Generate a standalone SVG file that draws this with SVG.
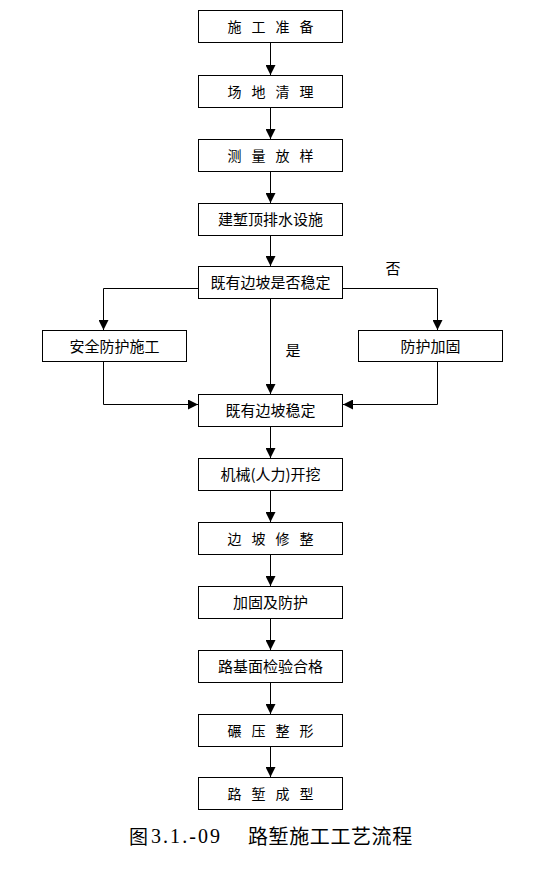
<svg xmlns="http://www.w3.org/2000/svg" width="541" height="895" viewBox="0 0 541 895">
<defs>
<marker id="ah" markerUnits="userSpaceOnUse" markerWidth="10" markerHeight="10" refX="10" refY="5" orient="auto">
<path d="M0,0 L10,5 L0,10 z" fill="#000"/>
</marker>
<style>
.box{fill:#fff;stroke:#000;stroke-width:1}
.t{font-family:"Noto Sans CJK SC","Noto Sans",sans-serif;font-size:15px;fill:#000;text-anchor:middle}
.sp{font-size:14px;letter-spacing:10px}
.c{fill:none;stroke:#000;stroke-width:1}
</style>
</defs>
<rect width="541" height="895" fill="#fff"/>
<g id="connectors">
<line class="c" x1="270.5" y1="42" x2="270.5" y2="75" marker-end="url(#ah)"/>
<line class="c" x1="270.5" y1="107" x2="270.5" y2="139" marker-end="url(#ah)"/>
<line class="c" x1="270.5" y1="171" x2="270.5" y2="203" marker-end="url(#ah)"/>
<line class="c" x1="270.5" y1="235" x2="270.5" y2="266" marker-end="url(#ah)"/>
<line class="c" x1="270.5" y1="298" x2="270.5" y2="394" marker-end="url(#ah)"/>
<polyline class="c" points="198,288.5 103.5,288.5 103.5,330" marker-end="url(#ah)"/>
<polyline class="c" points="343,288.5 437.5,288.5 437.5,330" marker-end="url(#ah)"/>
<polyline class="c" points="103.5,361 103.5,404.5 198,404.5" marker-end="url(#ah)"/>
<polyline class="c" points="437.5,361 437.5,404.5 343,404.5" marker-end="url(#ah)"/>
<line class="c" x1="270.5" y1="426" x2="270.5" y2="458" marker-end="url(#ah)"/>
<line class="c" x1="270.5" y1="490" x2="270.5" y2="522" marker-end="url(#ah)"/>
<line class="c" x1="270.5" y1="554" x2="270.5" y2="586" marker-end="url(#ah)"/>
<line class="c" x1="270.5" y1="618" x2="270.5" y2="650" marker-end="url(#ah)"/>
<line class="c" x1="270.5" y1="682" x2="270.5" y2="714" marker-end="url(#ah)"/>
<line class="c" x1="270.5" y1="746" x2="270.5" y2="777" marker-end="url(#ah)"/>
<text class="t" x="293" y="356">是</text>
<text class="t" x="393" y="274">否</text>
</g>
<g id="n1"><rect class="box" x="198.5" y="10.5" width="144" height="32"/><text class="t sp" x="275.5" y="31.5">施工准备</text></g>
<g id="n2"><rect class="box" x="198.5" y="75.5" width="144" height="32"/><text class="t sp" x="275.5" y="96.5">场地清理</text></g>
<g id="n3"><rect class="box" x="198.5" y="139.5" width="144" height="32"/><text class="t sp" x="275.5" y="160.5">测量放样</text></g>
<g id="n4"><rect class="box" x="198.5" y="203.5" width="144" height="32"/><text class="t" x="270.5" y="225">建堑顶排水设施</text></g>
<g id="n5"><rect class="box" x="198.5" y="266.5" width="144" height="32"/><text class="t" x="270.5" y="288">既有边坡是否稳定</text></g>
<g id="n6"><rect class="box" x="42.5" y="330.5" width="144" height="31"/><text class="t" x="114.5" y="351.5">安全防护施工</text></g>
<g id="n7"><rect class="box" x="358.5" y="330.5" width="144" height="31"/><text class="t" x="430.5" y="351.5">防护加固</text></g>
<g id="n8"><rect class="box" x="198.5" y="394.5" width="144" height="32"/><text class="t" x="270.5" y="416">既有边坡稳定</text></g>
<g id="n9"><rect class="box" x="198.5" y="458.5" width="144" height="32"/><text class="t" x="270.5" y="480">机械(人力)开挖</text></g>
<g id="n10"><rect class="box" x="198.5" y="522.5" width="144" height="32"/><text class="t sp" x="275.5" y="543.5">边坡修整</text></g>
<g id="n11"><rect class="box" x="198.5" y="586.5" width="144" height="32"/><text class="t" x="270.5" y="608">加固及防护</text></g>
<g id="n12"><rect class="box" x="198.5" y="650.5" width="144" height="32"/><text class="t" x="270.5" y="672">路基面检验合格</text></g>
<g id="n13"><rect class="box" x="198.5" y="714.5" width="144" height="32"/><text class="t sp" x="275.5" y="735.5">碾压整形</text></g>
<g id="n14"><rect class="box" x="198.5" y="777.5" width="144" height="32"/><text class="t sp" x="275.5" y="798.5">路堑成型</text></g>
<g id="caption">
<text x="129" y="844" font-family="'Noto Sans CJK SC',sans-serif" font-size="19" fill="#000">图</text>
<text x="151" y="843" font-family="'Liberation Serif',serif" font-size="20" textLength="69" lengthAdjust="spacing" fill="#000">3.1.-09</text>
<text x="248" y="844" font-family="'Noto Sans CJK SC',sans-serif" font-size="20" letter-spacing="0.6" fill="#000">路堑施工工艺流程</text>
</g>
</svg>
